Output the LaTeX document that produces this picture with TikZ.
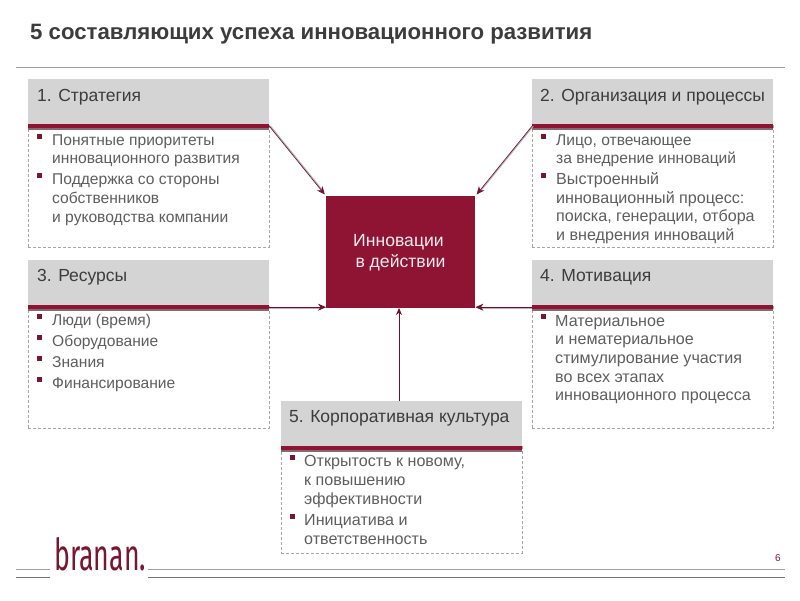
\documentclass[tikz,border=0pt]{standalone}
\usepackage{fontspec}
\setmainfont{Liberation Sans}
\newfontfamily\logofont{Fira Sans}
\usetikzlibrary{arrows.meta}
\definecolor{wine}{HTML}{8F1433}
\definecolor{bull}{HTML}{7A1530}
\definecolor{hdr}{HTML}{D4D4D4}
\definecolor{txt}{HTML}{5E5E5E}
\definecolor{head}{HTML}{3C3C3C}
\definecolor{rulegray}{HTML}{A0A0A0}
\tikzset{
  x=1pt,y=-1pt,
  boxframe/.style={draw=gray!70,dash pattern=on 3pt off 2pt,line width=.6pt,fill=white,anchor=north west,inner sep=0pt,minimum width=241pt},
  headbox/.style={fill=hdr,anchor=north west,inner sep=0pt,minimum width=241pt,minimum height=45pt},
  barred/.style={fill=wine,anchor=north west,inner sep=0pt,minimum width=241pt,minimum height=4pt},
  barshade/.style={fill=gray!80!wine,anchor=north west,inner sep=0pt,minimum width=241pt,minimum height=2pt},
  headtext/.style={anchor=base west,inner sep=0pt,text=head,font=\fontsize{17.5}{20}\selectfont},
  bodytext/.style={anchor=base west,inner sep=0pt,text=txt},
  bullet/.style={fill=bull,inner sep=0pt,minimum size=5pt},
  link/.style={draw=wine!80!black,line width=.7pt,-{Stealth[length=8pt,width=7pt]}},
  shade/.style={draw=gray!60,line width=1pt,shorten >=6pt},
  longrule/.style={line width=1.1pt}
}
\newcommand{\para}[5]{\node[bodytext] (#1) at (#2,#3) {\fontsize{15.6}{#4}\selectfont\begin{tabular}[t]{@{}l@{}}#5\end{tabular}};}
\newcommand{\parw}[5]{\node[bodytext] (#1) at (#2,#3) {\fontsize{16.1}{#4}\selectfont\begin{tabular}[t]{@{}l@{}}#5\end{tabular}};}
\begin{document}
\begin{tikzpicture}
\useasboundingbox (0,0) rectangle (800,600);
\fill[white] (0,0) rectangle (800,600);
\node[anchor=base west,inner sep=0pt,text=head,font=\fontsize{22.2}{26}\bfseries\selectfont] (title) at (30,39) {5 составляющих успеха инновационного развития};
\coordinate (tl) at (16,67.5); \coordinate (tr) at (785,67.5);
\draw[rulegray,longrule] (tl) -- (tr);

% frames
\node[boxframe,minimum height=123pt] (f1) at (28,124) {};
\node[boxframe,minimum height=123pt] (f2) at (532,124) {};
\node[boxframe,minimum height=123pt] (f3) at (28,305) {};
\node[boxframe,minimum height=123pt] (f4) at (532,305) {};
\node[boxframe,minimum height=107pt] (f5) at (281,446) {};

% headers
\node[headbox] (h1) at (28,79) {};
\node[headbox] (h2) at (532,79) {};
\node[headbox] (h3) at (28,260) {};
\node[headbox] (h4) at (532,260) {};
\node[headbox] (h5) at (281,401) {};
\node[barshade] (s1) at (28,128) {};
\node[barshade] (s2) at (532,128) {};
\node[barshade] (s3) at (28,309) {};
\node[barshade] (s4) at (532,309) {};
\node[barshade] (s5) at (281,450) {};
\node[barred] (b1) at (28,124) {};
\node[barred] (b2) at (532,124) {};
\node[barred] (b3) at (28,305) {};
\node[barred] (b4) at (532,305) {};
\node[barred] (b5) at (281,446) {};
\node[headtext] (t1) at (37,101) {1. Стратегия};
\node[headtext] (t2) at (540,101) {2. Организация и процессы};
\node[headtext] (t3) at (37,281) {3. Ресурсы};
\node[headtext] (t4) at (540,281) {4. Мотивация};
\node[headtext] (t5) at (289,422) {5. Корпоративная культура};

% centre
\node[fill=wine,anchor=north west,inner sep=0pt,minimum width=149pt,minimum height=112pt] (core) at (326,196) {};
\node[text=white!92!wine,inner sep=0pt,align=center,font=\fontsize{17.6}{21}\selectfont] (coretext) at (398.5,252.5) {Инновации\\ \hspace*{4pt}в действии};

% connectors
\draw[shade] ([xshift=1.2pt]b1.east) -- ([xshift=1.2pt]core.north west);
\draw[shade] ([xshift=1.2pt]b2.west) -- ([xshift=1.2pt]core.north east);
\draw[link,shorten >=2pt] (b1.east) -- (core.north west);
\draw[link,shorten >=2pt] (b2.west) -- (core.north east);
\coordinate (c3) at (core.west |- b3.east);
\coordinate (c4) at (core.east |- b4.west);
\coordinate (c5) at (399,308);
\coordinate (h5top) at (399,401);
\draw[shade] ([yshift=-1.5pt]b3.east) -- ([yshift=-1.5pt]c3);
\draw[shade] ([yshift=-1.5pt]b4.west) -- ([yshift=-1.5pt]c4);
\draw[link] (b3.east) -- (c3);
\draw[link] (b4.west) -- (c4);
\draw[link,shorten >=0pt,-{Stealth[length=7pt,width=6pt]}] (h5top) -- (c5);

% bullets
\node[bullet] (p1a) at (39.5,136.5) {};
\node[bullet] (p1b) at (39.5,175.5) {};
\node[bullet] (p2a) at (543.5,136.5) {};
\node[bullet] (p2b) at (543.5,175.5) {};
\node[bullet] (p3a) at (39.5,316.5) {};
\node[bullet] (p3b) at (39.5,337.5) {};
\node[bullet] (p3c) at (39.5,358.5) {};
\node[bullet] (p3d) at (39.5,379.5) {};
\node[bullet] (p4a) at (543.5,316.5) {};
\node[bullet] (p5a) at (292.5,457.5) {};
\node[bullet] (p5b) at (292.5,516.5) {};

% body text
\para{x1a}{52}{145.5}{18}{Понятные приоритеты\\инновационного развития}
\para{x1b}{52}{184.5}{19}{Поддержка со стороны\\собственников\\и руководства компании}
\para{x2a}{556}{145.5}{18}{Лицо, отвечающее\\за внедрение инноваций}
\parw{x2b}{556}{184.5}{18.6}{Выстроенный\\инновационный процесс:\\поиска, генерации, отбора\\и внедрения инноваций}
\para{x3a}{52}{325.5}{18}{Люди (время)}
\para{x3b}{52}{346.5}{18}{Оборудование}
\para{x3c}{52}{367.5}{18}{Знания}
\para{x3d}{52}{388.5}{18}{Финансирование}
\parw{x4a}{555}{326}{18.7}{Материальное\\и нематериальное\\стимулирование участия\\во всех этапах\\инновационного процесса}
\parw{x5a}{304}{466.5}{19}{Открытость к новому,\\к повышению\\эффективности}
\parw{x5b}{304}{525.5}{19}{Инициатива и\\ответственность}

% footer
\coordinate (la) at (16,569.5); \coordinate (lb) at (50,569.5);
\coordinate (lc) at (148,569.5); \coordinate (ld) at (785,569.5);
\coordinate (ma) at (16,577); \coordinate (mb) at (50,577);
\coordinate (mc) at (148,577); \coordinate (md) at (785,577);
\draw[rulegray,longrule] (la) -- (lb);
\draw[rulegray,longrule] (lc) -- (ld);
\draw[gray!90!black,line width=.9pt] (ma) -- (mb);
\draw[gray!90!black,line width=.9pt] (mc) -- (md);
\node[anchor=base west,inner sep=0pt,text=bull] (logo) at (54,570) {\scalebox{.86}[1.42]{\logofont\fontsize{31}{31}\selectfont branan.}};
\node[anchor=base,inner sep=0pt,text=wine,font=\fontsize{10}{12}\selectfont] (pg) at (778,561) {6};
\end{tikzpicture}
\end{document}
